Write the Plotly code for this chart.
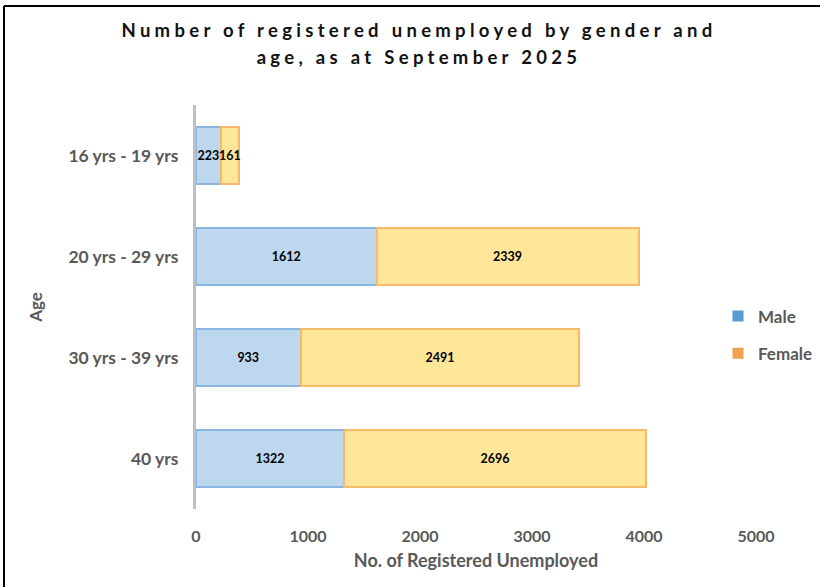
import plotly.graph_objects as go

categories = ["16 yrs - 19 yrs", "20 yrs - 29 yrs", "30 yrs - 39 yrs", "40 yrs"]
male = [223, 1612, 933, 1322]
female = [161, 2339, 2491, 2696]
x_ticks = [0, 1000, 2000, 3000, 4000, 5000]

W, H = 820, 587
L, R, T, B = 196, 64, 105, 78

fig = go.Figure()
common = dict(orientation="h", y=categories, texttemplate="<b>%{x}</b>",
              textposition="inside", insidetextanchor="middle", constraintext="none",
              textangle=0,
              textfont=dict(size=12.5, color="black", family="Lato"), showlegend=False,
              hoverinfo="skip")
fig.add_trace(go.Bar(x=male, name="Male",
                     marker=dict(color="#BDD7EE", line=dict(color="#8AB6E2", width=2)), **common))
fig.add_trace(go.Bar(x=female, name="Female",
                     marker=dict(color="#FFE699", line=dict(color="#F6BA6A", width=2)), **common))
# legend entries
fig.add_trace(go.Scatter(x=[None], y=[None], mode="markers", name="Male", legendgroup="m",
                         marker=dict(symbol="square", size=11, color="#5B9BD5")))
fig.add_trace(go.Scatter(x=[None], y=[None], mode="markers", name="Female", legendgroup="f",
                         marker=dict(symbol="square", size=11, color="#F0A050")))

pw = W - L - R
ph = H - T - B
def px(xp):
    return (xp - L) / pw
def py(yp):
    return (H - B - yp) / ph

fig.update_layout(
    width=W, height=H,
    margin=dict(l=L, r=R, t=T, b=B, autoexpand=False),
    paper_bgcolor="white", plot_bgcolor="white",
    barmode="stack", bargap=0.44,
    uniformtext=dict(minsize=12, mode="show"),
    title=dict(text="<b>Number of registered unemployed by gender and<br>age, as at September 2025</b>",
               x=px(419), xanchor="center", xref="paper", y=1 - 37 / H, yanchor="middle", yref="container",
               font=dict(family="Lato", size=18.5, color="#111111")),
    font=dict(family="Lato", color="#595959"),
    xaxis=dict(range=[0, 5000], tickvals=x_ticks, showgrid=False, zeroline=False, showline=False,
               tickfont=dict(size=16, color="#595959", weight="bold"), ticklabelstandoff=16,
               title=dict(text="<b>No. of Registered Unemployed</b>", font=dict(size=18, color="#595959"),
                          standoff=10), fixedrange=True),
    yaxis=dict(categoryorder="array", categoryarray=categories[::-1], showgrid=False,
               showline=True, linecolor="#BFBFBF", linewidth=3,
               tickfont=dict(size=17.5, color="#595959", weight="bold"), ticklabelstandoff=11,
               title=dict(text="<b>Age</b>", font=dict(size=17, color="#595959"), standoff=22),
               fixedrange=True),
    legend=dict(x=px(718), y=py(335), xanchor="left", yanchor="middle",
                font=dict(size=17, color="#595959", weight="bold"), tracegroupgap=12,
                bgcolor="rgba(0,0,0,0)", itemwidth=30),
    shapes=[
        dict(type="line", xref="paper", yref="paper", x0=px(4), x1=px(820), y0=py(6), y1=py(6),
             line=dict(color="black", width=2)),
        dict(type="line", xref="paper", yref="paper", x0=px(4), x1=px(4), y0=py(6), y1=py(587),
             line=dict(color="black", width=2)),
    ],
)
post = """
document.body.style.margin = '0';
document.querySelectorAll('.gtitle').forEach(function(t){
  t.style.letterSpacing = '4.3px';
  var lines = t.querySelectorAll('tspan.line');
  if (lines.length > 1) { lines[1].setAttribute('dy', '1.45em'); }
});
"""
fig.write_html("out.html", post_script=post, config={"displayModeBar": False})
